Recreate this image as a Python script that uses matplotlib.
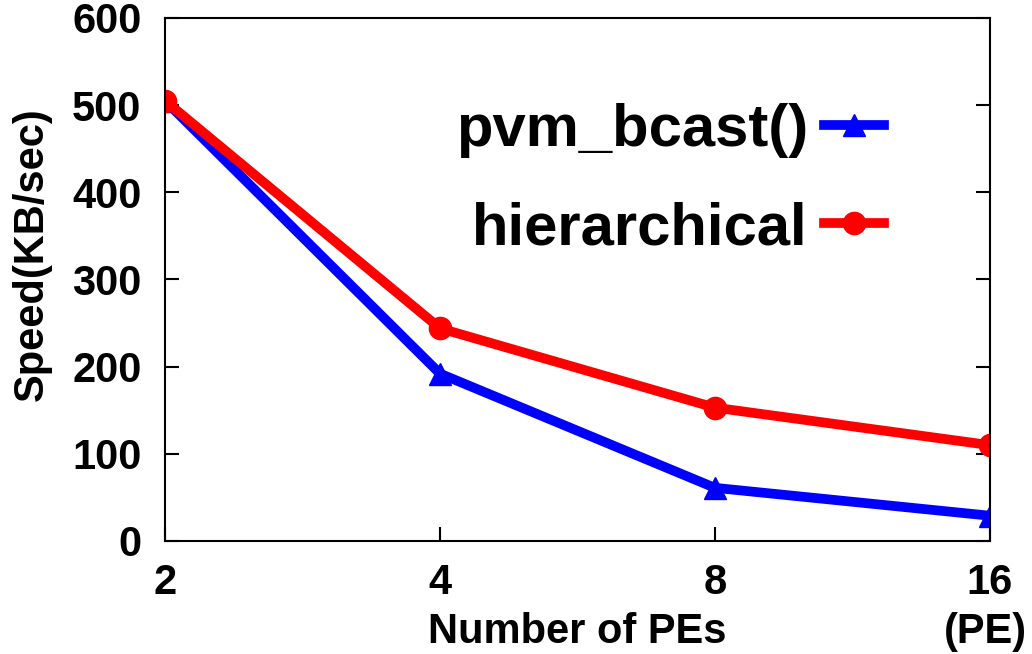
import matplotlib
matplotlib.use("Agg")
import matplotlib.pyplot as plt

plt.rcParams['font.family'] = ['Liberation Sans', 'DejaVu Sans']
plt.rcParams['font.weight'] = 'bold'

pe_labels = ["2", "4", "8", "16"]
pvm_bcast = [505, 192, 61, 29]
hierarchical = [505, 244, 153, 110]
y_ticks = [0, 100, 200, 300, 400, 500, 600]

fig = plt.figure(figsize=(10.32, 6.54), dpi=100)
ax = fig.add_axes([0.16, 0.1728, 0.799, 0.7997])
xs = list(range(len(pe_labels)))

ax.plot(xs, pvm_bcast, color='#0000ff', lw=7, marker='^', ms=16,
        label='pvm_bcast()', solid_joinstyle='round')
ax.plot(xs, hierarchical, color='#ff0000', lw=7, marker='o', ms=16,
        label='hierarchical', solid_joinstyle='round')

ax.set_xlim(0, 3)
ax.set_ylim(0, 600)
ax.set_xticks(xs)
ax.set_xticklabels(pe_labels)
ax.set_yticks(y_ticks)
ax.tick_params(direction='in', length=10, width=1.5, labelsize=30,
               top=False, right=True)
ax.tick_params(axis='y', pad=17)
ax.tick_params(axis='x', pad=16)
for lab in ax.get_xticklabels() + ax.get_yticklabels():
    lab.set_fontweight('bold')
for s in ax.spines.values():
    s.set_linewidth(1.5)

ax.set_xlabel('Number of PEs', fontsize=30, fontweight='bold')
ax.xaxis.set_label_coords(0.5, -0.174)
ax.xaxis.label.set_verticalalignment('center')
ax.set_ylabel('Speed(KB/sec)', fontsize=30, fontweight='bold')
ax.yaxis.set_label_coords(-0.162, 0.549)
ax.yaxis.label.set_verticalalignment('center')
fig.text(985 / 1032, 1 - 632 / 654, '(PE)', ha='center', va='center',
         fontsize=30, fontweight='bold')

leg = ax.legend(loc='upper right', bbox_to_anchor=(0.8715, 0.837),
                borderaxespad=0, borderpad=0, frameon=False,
                markerfirst=False, handlelength=1.0,
                labelspacing=0.72, handletextpad=0.27, numpoints=1,
                prop={'weight': 'bold', 'size': 43})

fig.savefig('out.png', dpi=100)
